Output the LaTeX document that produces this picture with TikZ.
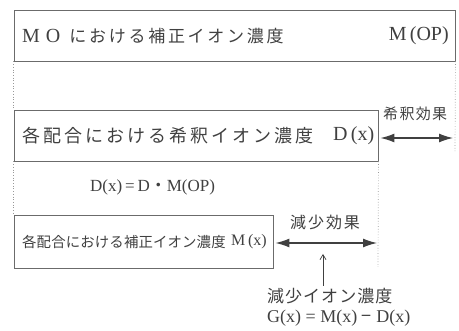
\documentclass[tikz,border=0pt]{standalone}
\usepackage{fontspec}
\setmainfont{Liberation Serif}
\newfontfamily\cjkA[LetterSpace=16]{Noto Sans CJK JP}
\newfontfamily\cjkB[LetterSpace=17]{Noto Sans CJK JP}
\newfontfamily\cjkC[LetterSpace=1]{Noto Sans CJK JP}
\newfontfamily\cjkD[LetterSpace=9]{Noto Sans CJK JP}
\newfontfamily\cjkE[LetterSpace=12]{Noto Sans CJK JP}
\newfontfamily\cjkF[LetterSpace=6]{Noto Sans CJK JP}
\newfontfamily\cjkplain{Noto Sans CJK JP}
\usetikzlibrary{arrows.meta}
\definecolor{ink}{gray}{0.25}
\definecolor{edge}{gray}{0.42}
\definecolor{dots}{gray}{0.6}
\tikzset{
  box/.style={draw=edge, line width=0.9pt, inner sep=0pt},
  txt/.style={text=ink, inner sep=0pt},
  guide/.style={draw=dots, line width=0.7pt, dotted},
  dblarrow/.style={draw=ink, line width=1.3pt,
    {Latex[length=14pt,width=9pt]}-{Latex[length=14pt,width=9pt]}},
  uparrow/.style={draw=ink, line width=0.7pt, -{Straight Barb[length=5pt,width=6pt]}}
}
\begin{document}
\begin{tikzpicture}[x=1pt,y=-1pt]
\useasboundingbox (0,0) rectangle (459,331);
% boxes
\node[box, minimum width=441pt, minimum height=51pt] (b1) at (234.5,35.5) {};
\node[box, minimum width=364pt, minimum height=51pt] (b2) at (196,135.5) {};
\node[box, minimum width=259pt, minimum height=53pt] (b3) at (143.5,241.5) {};
% texts in boxes
\node[txt, anchor=west] (t1a) at (22,36)
  {\fontsize{20}{20}\selectfont M\hspace{6pt}O\hspace{9pt}{\cjkA\fontsize{17}{17}\selectfont における補正イオン濃度}};
\node[txt, anchor=east] (t1b) at (449,36) {\fontsize{20}{20}\selectfont M\,(OP)};
\node[txt, anchor=west] (t2a) at (22,136)
  {\cjkB\fontsize{18}{18}\selectfont 各配合における希釈イオン濃度};
\node[txt, anchor=west] (t2b) at (333,136) {\fontsize{20}{20}\selectfont D\,(x)};
\node[txt, anchor=west] (t3a) at (22,242)
  {\cjkC\fontsize{14.4}{15}\selectfont 各配合における補正イオン濃度};
\node[txt, anchor=west] (t3b) at (231,242) {\fontsize{16}{16}\selectfont M\,(x)};
% formula under box 2
\node[txt, anchor=west] (f1) at (90,187)
  {\fontsize{17}{17}\selectfont D(x)\,=\,D{\cjkplain ・}M(OP)};
% guides
\coordinate (r1) at (455,138);
\coordinate (r1end) at (455,153);
\coordinate (r2) at (378,243);
\coordinate (r2end) at (378,267);
\draw[guide] (b1.south west) -- (b2.north west);
\draw[guide] (b2.south west) -- (b3.north west);
\draw[guide] (b1.south east) -- (r1end);
\draw[guide] (b2.south east) -- (r2end);
% arrows
\draw[dblarrow, shorten <=2pt, shorten >=2pt] (b2.east |- r1) -- (r1);
\draw[dblarrow, shorten <=2pt, shorten >=1pt] (b3.east |- r2) -- (r2);
% labels
\node[txt, anchor=west] (l1) at (383,114)
  {\cjkD\fontsize{15}{15}\selectfont 希釈効果};
\node[txt, anchor=west] (l2) at (290,222)
  {\cjkE\fontsize{16}{16}\selectfont 減少効果};
\node[txt, anchor=west] (l3) at (267,296)
  {\cjkF\fontsize{17}{17}\selectfont 減少イオン濃度};
\node[txt, anchor=west] (l4) at (267,318)
  {\fontsize{18}{18}\selectfont G(x) = M(x) {\cjkplain −} D(x)};
\coordinate (ua) at (323,254);
\draw[uparrow] (l3.north -| ua) ++(0,-2) -- (ua);
\end{tikzpicture}
\end{document}
